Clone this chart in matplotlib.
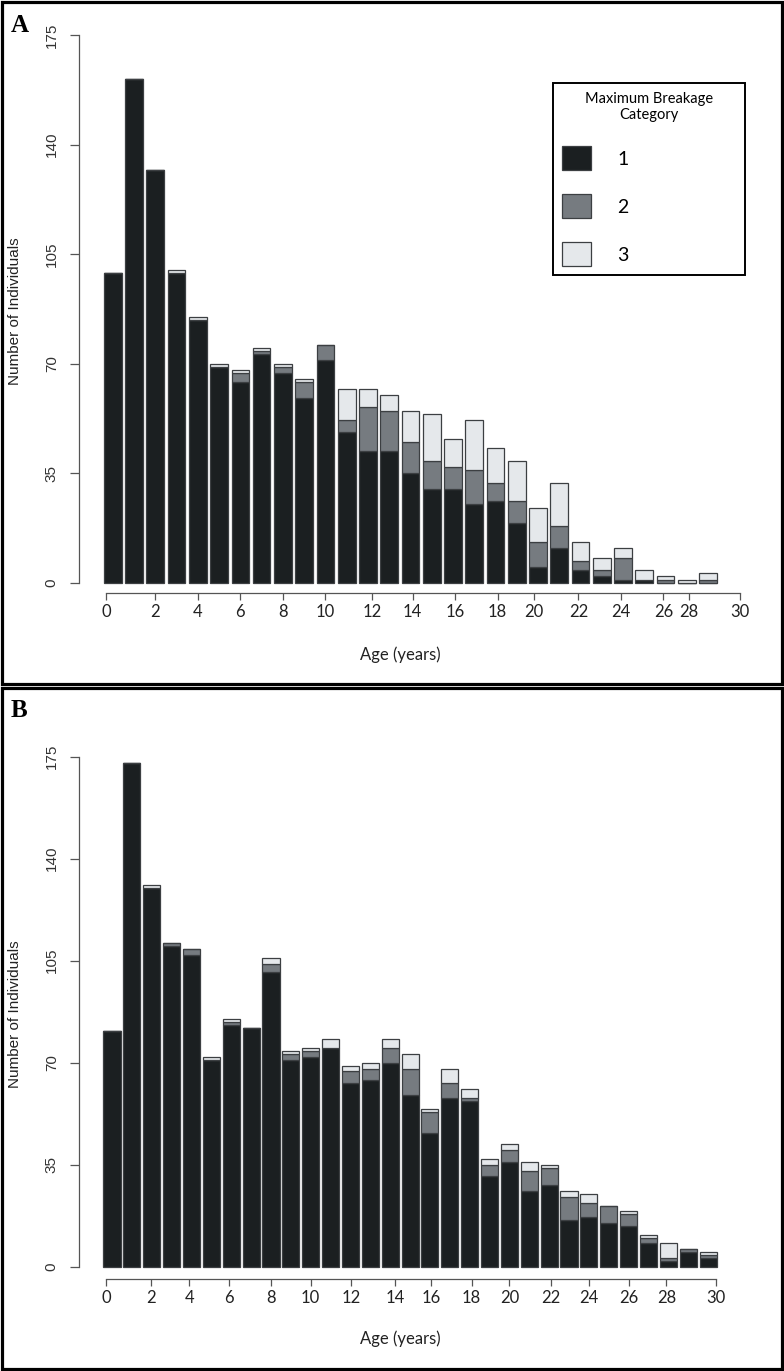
import matplotlib.pyplot as plt
from matplotlib.patches import Rectangle

# ---- data (counts per age class, stacked by maximum breakage category) ----
ages_a = list(range(29))
a_cat1 = [99, 161, 132, 99, 84, 69, 64, 73, 67, 59, 71, 48, 42, 42, 35, 30, 30, 25, 26, 19,
          5, 11, 4, 2, 1, 1, 0, 0, 0]
a_cat2 = [0, 0, 0, 0, 0, 0, 3, 1, 2, 5, 5, 4, 14, 13, 10, 9, 7, 11, 6, 7,
          8, 7, 3, 2, 7, 0, 1, 0, 1]
a_cat3 = [0, 0, 0, 1, 1, 1, 1, 1, 1, 1, 0, 10, 6, 5, 10, 15, 9, 16, 11, 13,
          11, 14, 6, 4, 3, 3, 1, 1, 2]

ages_b = list(range(31))
b_cat1 = [81, 173, 130, 110, 107, 71, 83, 82, 101, 71, 72, 75, 63, 64, 70, 59, 46, 58, 57, 31,
          36, 26, 28, 16, 17, 15, 14, 8, 2, 5, 3]
b_cat2 = [0, 0, 0, 1, 2, 0, 1, 0, 3, 2, 2, 0, 4, 4, 5, 9, 7, 5, 1, 4,
          4, 7, 6, 8, 5, 6, 4, 2, 1, 1, 1]
b_cat3 = [0, 0, 1, 0, 0, 1, 1, 0, 2, 1, 1, 3, 2, 2, 3, 5, 1, 5, 3, 2,
          2, 3, 1, 2, 3, 0, 1, 1, 5, 0, 1]

tick_labels = [str(v) for v in range(0, 31, 2)]
# the published axes place the labels slightly irregularly
a_tick_pos = [-0.3, 2, 4, 6, 8, 10, 12.2, 14.1, 16.1, 18.1, 19.8, 21.9, 23.9, 25.9, 27.1, 29.5]
b_tick_pos = [-0.3, 1.95, 3.9, 5.9, 8, 10, 12.05, 14.25, 16.05, 18.1, 20, 22.1, 24, 26, 27.9, 30.4]
y_ticks = [0, 35, 70, 105, 140, 175]
cat_labels = ['1', '2', '3']

colors = ['#1b1f21', '#767b80', '#e5e8eb']
edge = '#3c3f42'

W, H = 784, 1371
plt.rcParams['font.family'] = ['Liberation Sans', 'DejaVu Sans']
fig = plt.figure(figsize=(W / 100, H / 100), dpi=100)


def px_axes(left, top, right, bottom):
    return fig.add_axes([left / W, 1 - bottom / H, (right - left) / W, (bottom - top) / H])


def draw_panel(ax, ages, c1, c2, c3, width, ticks, xlim, ylim, xlab_y):
    bot3 = [a + b for a, b in zip(c1, c2)]
    bars = []
    for vals, bot, col in zip([c1, c2, c3], [None, c1, bot3], colors):
        bars.append(ax.bar(ages, vals, width, bottom=bot, color=col,
                           edgecolor=edge, linewidth=0.9))
    ax.set_xlim(*xlim)
    ax.set_ylim(*ylim)
    for s in ['top', 'right']:
        ax.spines[s].set_visible(False)
    for s in ['left', 'bottom']:
        ax.spines[s].set_color('#555555')
        ax.spines[s].set_linewidth(0.9)
    ax.spines['left'].set_bounds(0, 175)
    ax.spines['bottom'].set_bounds(ticks[0], ticks[-1])
    ax.set_yticks(y_ticks)
    ax.set_yticklabels([str(v) for v in y_ticks], rotation=90, va='center', fontsize=11)
    ax.set_xticks(ticks, tick_labels, fontfamily='Lato', fontsize=12)
    ax.tick_params(axis='x', length=4.7, width=0.9, color='#555555', pad=3, labelcolor='#222222')
    ax.tick_params(axis='y', length=6.5, width=0.9, color='#555555', pad=8, labelcolor='#333333')
    ax.set_ylabel('Number of Individuals', fontsize=11, color='#222222')
    ax.yaxis.set_label_coords(-0.086, 0.5)
    ax.set_xlabel('Age (years)', fontfamily='Lato', fontsize=12, color='#222222')
    ax.xaxis.set_label_coords(0.482, xlab_y)
    return bars


# panel A
ax_a = px_axes(79, 30, 745, 593.3)
bars_a = draw_panel(ax_a, ages_a, a_cat1, a_cat2, a_cat3, 0.833, a_tick_pos,
                    (-1.590, 29.737), (-3.39, 176.6), -0.094)
leg = ax_a.legend(bars_a, cat_labels, title='Maximum Breakage\nCategory',
                  loc='upper left', mode='expand',
                  bbox_to_anchor=(553 / W, 1 - 276 / H, 192 / W, 193 / H),
                  bbox_transform=fig.transFigure, borderaxespad=0,
                  prop={'family': 'Lato', 'size': 14},
                  title_fontproperties={'family': 'Lato', 'size': 10.5},
                  handlelength=1.51, handleheight=1.5, handletextpad=1.35,
                  labelspacing=1.25, borderpad=0.45, fancybox=False,
                  edgecolor='black', framealpha=1)
leg.get_frame().set_linewidth(1.4)
leg.get_title().set_multialignment('center')

# panel B
ax_b = px_axes(79, 750, 745, 1279)
draw_panel(ax_b, ages_b, b_cat1, b_cat2, b_cat3, 0.86, b_tick_pos,
           (-1.661, 31.857), (-4.22, 177.3), -0.098)

# panel frames and letters
for top, bottom in [(1.5, 684.5), (688, 1369)]:
    fig.add_artist(Rectangle((1.5 / W, 1 - bottom / H), 780 / W, (bottom - top) / H,
                             transform=fig.transFigure, fill=False, lw=2.3, ec='black'))
fig.text(11 / W, 1 - 32 / H, 'A', family='Liberation Serif', weight='bold', size=18)
fig.text(11 / W, 1 - 717 / H, 'B', family='Liberation Serif', weight='bold', size=18)

plt.savefig('out.png', dpi=100)
